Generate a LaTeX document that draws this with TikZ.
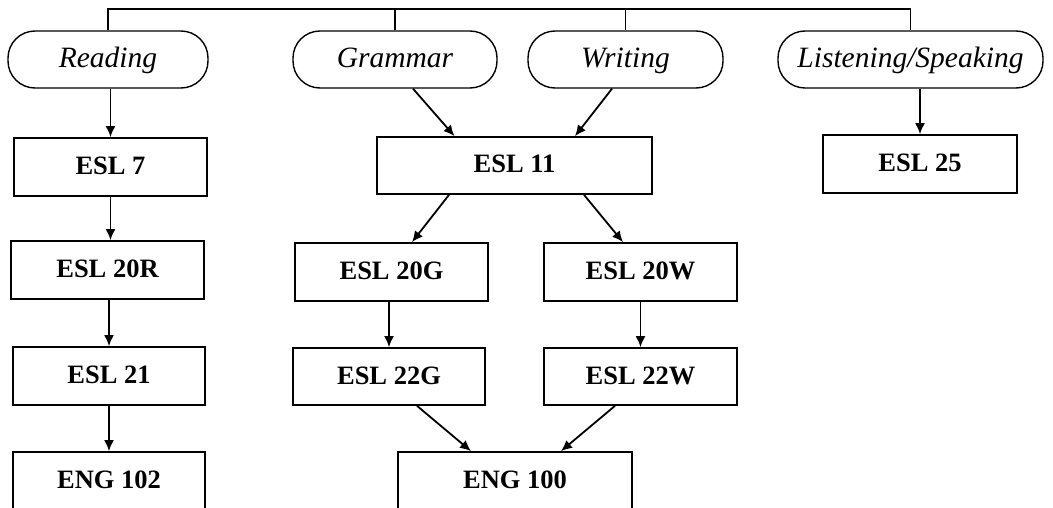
\documentclass[tikz,border=0pt]{standalone}
\usepackage{fontspec}
\setmainfont{Liberation Serif}
\usetikzlibrary{arrows.meta}
\tikzset{
  pill/.style={draw, line width=1.4pt, rounded corners=27pt, inner sep=0pt, minimum height=57pt, text height=17pt, text depth=0pt, font=\fontsize{29.5}{33}\selectfont\itshape},
  course/.style={draw, line width=1.7pt, inner sep=0pt, minimum height=58pt, minimum width=193pt, text height=15pt, text depth=0pt, font=\fontsize{26.5}{30}\selectfont\bfseries},
  arr/.style={line width=1.8pt, -{Latex[length=11pt,width=10pt]}},
  link/.style={line width=1.6pt}
}
\begin{document}
\begin{tikzpicture}[x=1pt,y=-1pt]
\clip (0,0) rectangle (1053,508);
% pills
\node[pill, minimum width=200pt] (read) at (108,59.5) {Reading};
\node[pill, minimum width=204pt] (gram) at (395,59.5) {Grammar};
\node[pill, minimum width=195pt] (writ) at (625.5,59.5) {Writing};
\node[pill, minimum width=265pt] (list) at (910.5,59.5) {Listening/Speaking};
\coordinate (top) at (0,9);
% courses
\node[course] (esl7) at (110.5,167) {ESL 7};
\node[course] (esl20r) at (107.5,270) {ESL 20R};
\node[course, minimum width=192pt] (esl21) at (109,376) {ESL 21};
\node[course, minimum width=192pt] (eng102) at (109,481) {ENG 102};
\node[course, minimum width=275pt, minimum height=57pt] (esl11) at (514.5,165.5) {ESL 11};
\node[course] (esl20g) at (391.5,272) {ESL 20G};
\node[course] (esl20w) at (640.5,272) {ESL 20W};
\node[course, minimum width=192pt, minimum height=57pt] (esl22g) at (389,376.5) {ESL 22G};
\node[course, minimum height=57pt] (esl22w) at (640.5,376.5) {ESL 22W};
\node[course, minimum width=234pt] (eng100) at (515,481) {ENG 100};
\node[course, minimum width=194pt] (esl25) at (920,164) {ESL 25};
% top bracket
\draw[link] (read.north) |- (top -| list.north) -- (list.north);
\draw[link] (gram.north) -- (gram.north |- top);
\draw[link] (writ.north) -- (writ.north |- top);
% reading column
\draw[arr] (esl7.north |- read.south) -- (esl7.north);
\draw[arr] (esl7.south) -- (esl7.south |- esl20r.north);
\draw[arr] (esl20r.south -| esl21.north) -- (esl21.north);
\draw[arr] (esl21.south) -- (eng102.north);
% grammar / writing
\draw[arr] ([xshift=18pt]gram.south) -- ([xshift=-60pt]esl11.north);
\draw[arr] ([xshift=-13.5pt]writ.south) -- ([xshift=60.5pt]esl11.north);
\draw[arr] ([xshift=-65.5pt]esl11.south) -- ([xshift=20.5pt]esl20g.north);
\draw[arr] ([xshift=69.5pt]esl11.south) -- ([xshift=-17.5pt]esl20w.north);
\draw[arr] (esl22g.north |- esl20g.south) -- (esl22g.north);
\draw[arr] (esl20w.south) -- (esl22w.north);
\draw[arr] ([xshift=28pt]esl22g.south) -- ([xshift=-44pt]eng100.north);
\draw[arr] ([xshift=-25.5pt]esl22w.south) -- ([xshift=46pt]eng100.north);
% listening
\draw[arr] (esl25.north |- list.south) -- (esl25.north);
\end{tikzpicture}
\end{document}
